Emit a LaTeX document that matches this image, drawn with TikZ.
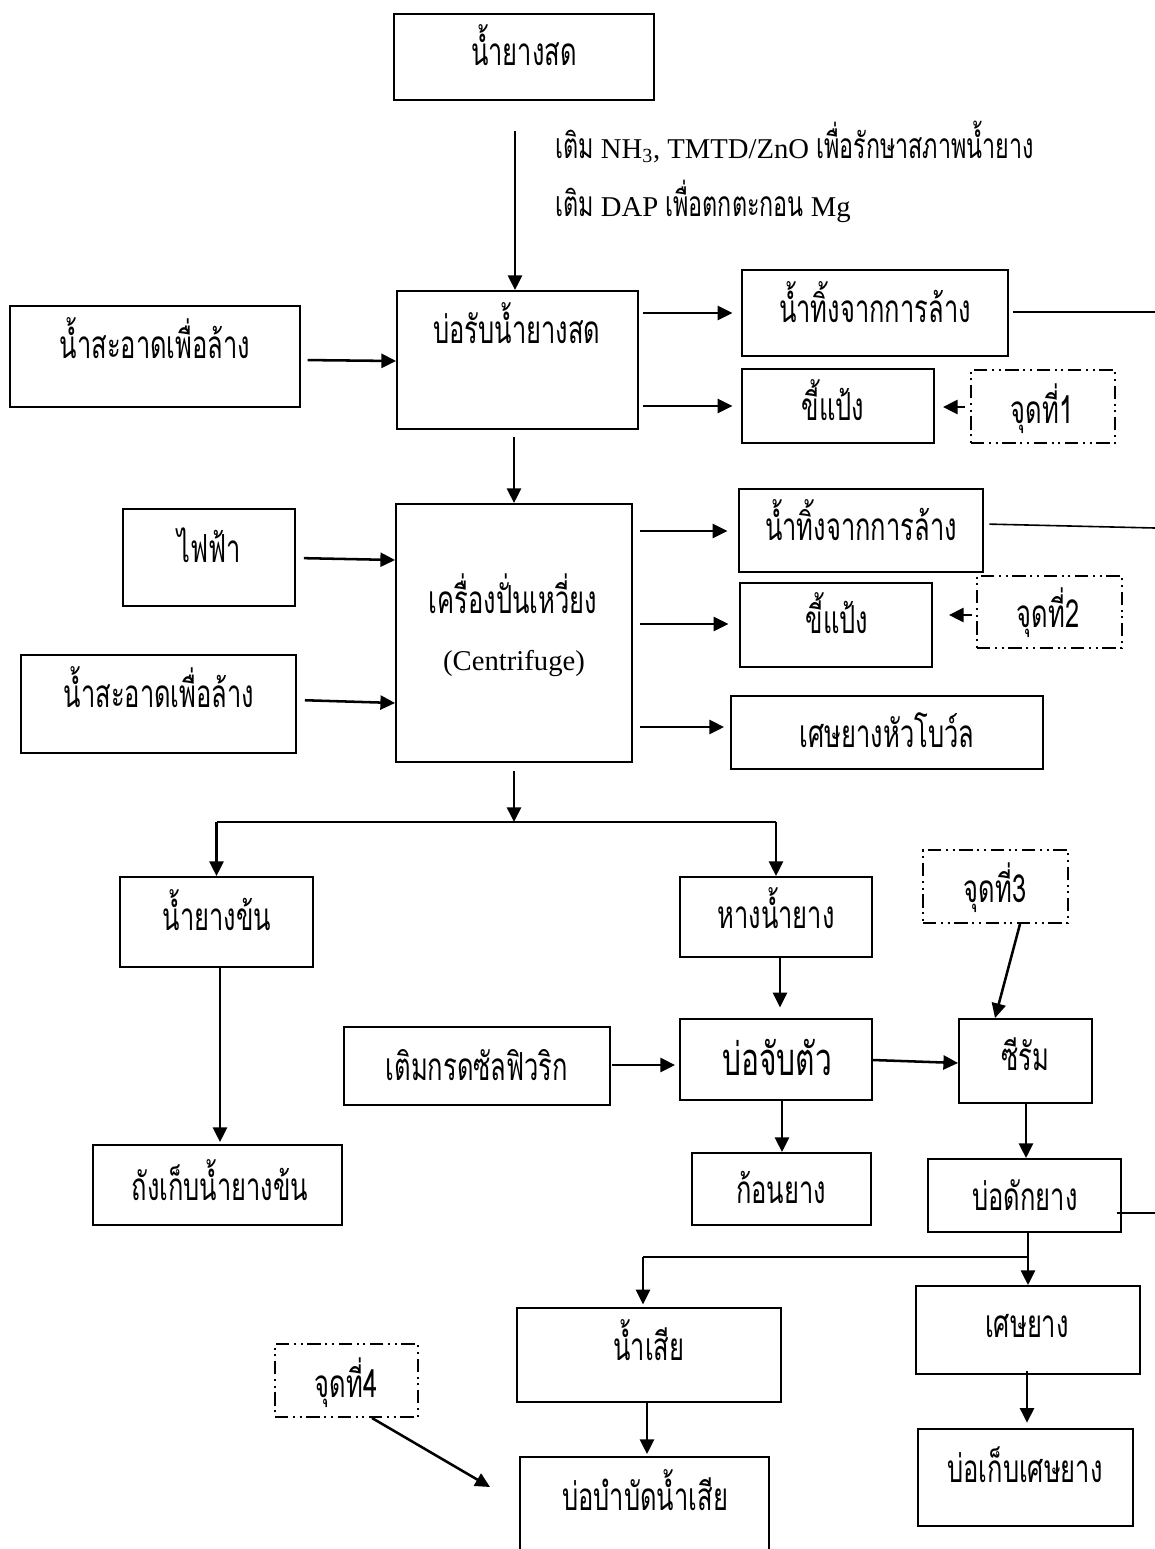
\documentclass[tikz,border=0pt]{standalone}
\usepackage{fontspec}
\setmainfont{Liberation Serif}
\newfontfamily\thaifont[Script=Thai,FakeStretch=0.66]{Loma}
\usetikzlibrary{arrows.meta,fit}
\newcommand\thtxt[1]{{\thaifont\fontsize{26.5}{32}\selectfont #1}}
\newcommand\mkbox[6][box]{\node[#1,fit={(#3,#4) (#5,#6)}] (#2) {};}
\begin{document}
\begin{tikzpicture}[x=0.75pt,y=-0.75pt,
  box/.style={draw,line width=1.4pt,inner sep=0pt},
  ptbox/.style={draw,line width=1.5pt,inner sep=0pt,dash pattern=on 10pt off 3.5pt on 1.5pt off 3.5pt on 1.5pt off 3.5pt},
  th/.style={inner sep=0pt,anchor=base,font=\thaifont\fontsize{29}{34}\selectfont},
  thbig/.style={inner sep=0pt,anchor=base,font=\thaifont\fontsize{34}{40}\selectfont},
  lat/.style={inner sep=0pt,anchor=base,font=\fontsize{21.5}{26}\selectfont},
  arr/.style={line width=1.9pt,-{Triangle[length=11pt,width=10.5pt]}},
  ln/.style={line width=1.2pt}]
\useasboundingbox (0,0) rectangle (1155,1549);
\clip (0,0) rectangle (1155,1549);
% boxes
\mkbox{A}{394}{14}{654}{100}
\mkbox{B}{397}{291}{638}{429}
\mkbox{W1}{10}{306}{300}{407}
\mkbox{C}{396}{504}{632}{762}
\mkbox{E}{123}{509}{295}{606}
\mkbox{W2}{21}{655}{296}{753}
\mkbox{R1}{742}{270}{1008}{356}
\mkbox{K1}{742}{369}{934}{443}
\mkbox[ptbox]{P1}{971}{370}{1115}{443}
\mkbox{R2}{739}{489}{983}{572}
\mkbox{K2}{740}{583}{932}{667}
\mkbox[ptbox]{P2}{977}{576}{1122}{648}
\mkbox{S}{731}{696}{1043}{769}
\mkbox{L}{120}{877}{313}{967}
\mkbox{T}{680}{877}{872}{957}
\mkbox{G}{93}{1145}{342}{1225}
\mkbox{H}{344}{1027}{610}{1105}
\mkbox{J}{680}{1019}{872}{1100}
\mkbox{Se}{959}{1019}{1092}{1103}
\mkbox[ptbox]{P3}{923}{850}{1068}{923}
\mkbox{Lu}{692}{1153}{871}{1225}
\mkbox{D}{928}{1159}{1121}{1232}
\mkbox{Ws}{517}{1308}{781}{1402}
\mkbox{Sy}{916}{1286}{1140}{1374}
\mkbox{Sb}{918}{1429}{1133}{1526}
\mkbox{Tr}{520}{1457}{769}{1600}
\mkbox[ptbox]{P4}{275}{1344}{418}{1417}
% texts
\node[th] (tA) at (524,65) {น้ำยางสด};
\node[lat,anchor=base west] (n1) at (555,158) {\thtxt{เติม} NH\textsubscript{3}, TMTD/ZnO \thtxt{เพื่อรักษาสภาพน้ำยาง}};
\node[lat,anchor=base west] (n2) at (555,216) {\thtxt{เติม} DAP \thtxt{เพื่อตกตะกอน} Mg};
\node[th] (tB) at (517,343) {บ่อรับน้ำยางสด};
\node[th] (tW1) at (155,358) {น้ำสะอาดเพื่อล้าง};
\node[th] (tC) at (513,613) {เครื่องปั่นเหวี่ยง};
\node[lat] (tC2) at (514,670) {(Centrifuge)};
\node[th] (tE) at (209,562) {ไฟฟ้า};
\node[th] (tW2) at (159,707) {น้ำสะอาดเพื่อล้าง};
\node[th] (tR1) at (875,322) {น้ำทิ้งจากการล้าง};
\node[th] (tK1) at (833,420) {ขี้แป้ง};
\node[th] (tP1) at (1042,423) {จุดที่1};
\node[th] (tR2) at (861,540) {น้ำทิ้งจากการล้าง};
\node[th] (tK2) at (837,633) {ขี้แป้ง};
\node[th] (tP2) at (1048,627) {จุดที่2};
\node[th] (tS) at (887,747) {เศษยางหัวโบว์ล};
\node[th] (tL) at (217,930) {น้ำยางข้น};
\node[th] (tT) at (776,928) {หางน้ำยาง};
\node[th] (tG) at (220,1200) {ถังเก็บน้ำยางข้น};
\node[th] (tH) at (477,1080) {เติมกรดซัลฟิวริก};
\node[thbig] (tJ) at (777,1075) {บ่อจับตัว};
\node[th] (tSe) at (1025,1070) {ซีรัม};
\node[th] (tP3) at (995,902) {จุดที่3};
\node[th] (tLu) at (781,1203) {ก้อนยาง};
\node[th] (tD) at (1025,1210) {บ่อดักยาง};
\node[th] (tWs) at (649,1360) {น้ำเสีย};
\node[th] (tSy) at (1027,1337) {เศษยาง};
\node[th] (tSb) at (1025,1482) {บ่อเก็บเศษยาง};
\node[th] (tTr) at (645,1510) {บ่อบำบัดน้ำเสีย};
\node[th] (tP4) at (346,1397) {จุดที่4};
% free ends
\coordinate (e1) at (1155,312);
\coordinate (e2) at (1155,528);
\coordinate (e3) at (1155,1213);
\coordinate (sp1) at (514,822);
\coordinate (sp2) at (1028,1257);
\coordinate (sp3) at (643,1257);
\coordinate (p4t) at (490,1487);
% connectors
\draw[arr,shorten <=22.5pt] (A.south -| 515,0) -- (B.north -| 515,0);
\draw[arr,shorten <=5pt] (W1.east |- 0,360) -- (B.west |- 0,361);
\draw[arr,shorten <=3pt,shorten >=6.5pt] (B.east |- 0,313) -- (R1.west |- 0,313);
\draw[arr,shorten <=3pt,shorten >=6.5pt] (B.east |- 0,406) -- (K1.west |- 0,406);
\draw[arr,shorten <=4pt,shorten >=6pt] (P1.west |- 0,407) -- (K1.east |- 0,407);
\draw[ln,shorten <=3pt] (R1.east |- 0,312) -- (e1);
\draw[arr,shorten <=5pt] (B.south -| 514,0) -- (C.north -| 514,0);
\draw[arr,shorten <=6pt] (E.east |- 0,558) -- (C.west |- 0,560);
\draw[arr,shorten <=6pt] (W2.east |- 0,700) -- (C.west |- 0,703);
\draw[arr,shorten <=5pt,shorten >=8pt] (C.east |- 0,531) -- (R2.west |- 0,531);
\draw[arr,shorten <=5pt,shorten >=8pt] (C.east |- 0,624) -- (K2.west |- 0,624);
\draw[arr,shorten <=5pt,shorten >=4.5pt] (C.east |- 0,727) -- (S.west |- 0,727);
\draw[arr,shorten <=3pt,shorten >=12pt] (P2.west |- 0,615) -- (K2.east |- 0,615);
\draw[ln,shorten <=4pt] (R2.east |- 0,524) -- (e2);
\draw[arr,shorten <=6pt] (C.south -| sp1) -- (sp1);
\draw[ln] (L.north |- sp1) -- (T.north |- sp1);
\draw[arr] (L.north |- sp1) -- (L.north);
\draw[arr] (T.north |- sp1) -- (T.north);
\draw[arr,shorten >=1.5pt] (L.south -| 220,0) -- (G.north -| 220,0);
\draw[arr,shorten >=8pt] (T.south -| 780,0) -- (J.north -| 780,0);
\draw[arr,shorten <=1pt,shorten >=3pt] (H.east |- 0,1065) -- (J.west |- 0,1065);
\draw[arr] (J.east |- 0,1060) -- (Se.west |- 0,1063);
\draw[arr] (J.south -| 782,0) -- (Lu.north -| 782,0);
\draw[arr] (P3.south -| 1020,0) -- (Se.north -| 995,0);
\draw[arr] (Se.south -| 1026,0) -- (D.north -| 1026,0);
\draw[ln,shorten <=-4pt] (D.east |- 0,1213) -- (e3);
\draw[arr] (D.south -| sp2) -- (Sy.north -| sp2);
\draw[ln] (sp2) -- (sp3);
\draw[arr,shorten >=2pt] (sp3) -- (Ws.north -| sp3);
\draw[arr,shorten <=-3pt,shorten >=4pt] (Sy.south -| 1027,0) -- (Sb.north -| 1027,0);
\draw[arr,shorten >=1.5pt] (Ws.south -| 647,0) -- (Tr.north -| 647,0);
\draw[arr] (P4.south -| 372,0) -- (p4t);
\end{tikzpicture}
\end{document}
